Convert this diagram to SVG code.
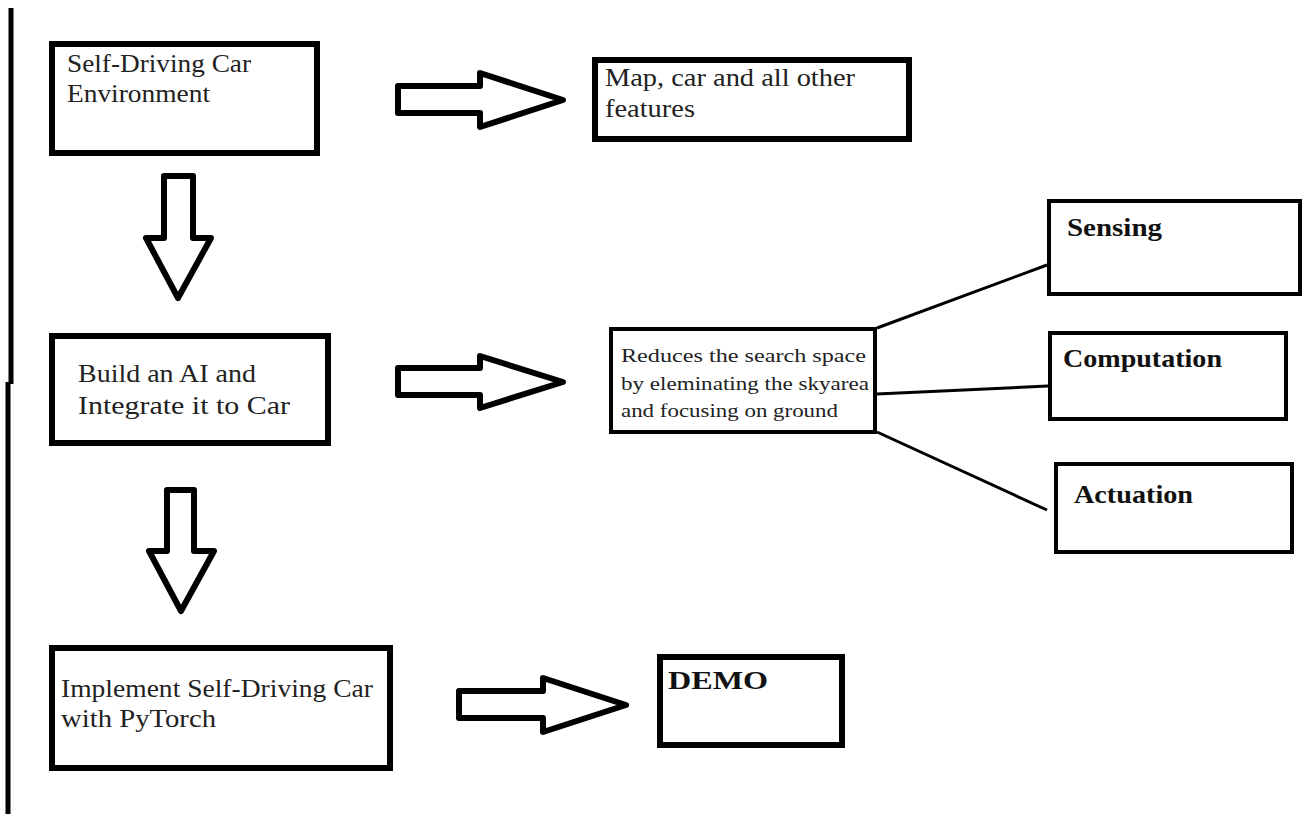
<svg xmlns="http://www.w3.org/2000/svg" width="1303" height="814" viewBox="0 0 1303 814">
<style>
.box{fill:#fff;stroke:#000;stroke-width:6}
.tbox{fill:#fff;stroke:#000;stroke-width:4}
.arr{fill:#fff;stroke:#000;stroke-width:6;stroke-linejoin:round}
.ln{stroke:#000;stroke-width:3;fill:none}
.t{font-family:"Liberation Serif","Times New Roman",serif;font-size:26px;fill:#222}
.s{font-family:"Liberation Serif","Times New Roman",serif;font-size:18px;fill:#222}
.b{font-family:"Liberation Serif","Times New Roman",serif;font-size:25px;font-weight:bold;fill:#111}
</style>
<rect width="1303" height="814" fill="#fff"/>
<g id="sidebar">
<line x1="11" y1="8" x2="11" y2="384" stroke="#000" stroke-width="5"/>
<line x1="8" y1="382" x2="8" y2="814" stroke="#000" stroke-width="5"/>
</g>
<g id="connectors">
<path class="arr" d="M398,86 H480 V73 L563,100 L480,127 V113 H398 Z"/>
<path class="arr" d="M398,368 H480 V356 L563,382 L480,408 V395 H398 Z"/>
<path class="arr" d="M459,691 H543 V678 L626,705 L543,732 V718 H459 Z"/>
<path class="arr" d="M164,176 H193 V238 H211 L178,298 L146,238 H164 Z"/>
<path class="arr" d="M167,490 H194 V551 H214 L181,611 L149,551 H167 Z"/>
<line class="ln" x1="877" y1="328" x2="1047" y2="265"/>
<line class="ln" x1="877" y1="394" x2="1048" y2="386"/>
<line class="ln" x1="877" y1="432" x2="1047" y2="510"/>
</g>
<g id="env">
<rect class="box" x="52" y="44" width="265" height="109"/>
<text class="t" x="67" y="72" textLength="184" lengthAdjust="spacingAndGlyphs">Self-Driving Car</text>
<text class="t" x="67" y="102" textLength="143" lengthAdjust="spacingAndGlyphs">Environment</text>
</g>
<g id="map">
<rect class="box" x="595" y="60" width="314" height="79"/>
<text class="t" x="605" y="86" textLength="250" lengthAdjust="spacingAndGlyphs">Map, car and all other</text>
<text class="t" x="605" y="117" textLength="90" lengthAdjust="spacingAndGlyphs">features</text>
</g>
<g id="build">
<rect class="box" x="52" y="336" width="276" height="107"/>
<text class="t" x="78" y="382" textLength="178" lengthAdjust="spacingAndGlyphs">Build an AI and</text>
<text class="t" x="78" y="414" textLength="212" lengthAdjust="spacingAndGlyphs">Integrate it to Car</text>
</g>
<g id="reduce">
<rect class="tbox" x="611" y="329" width="264" height="103"/>
<text class="s" x="621" y="362" textLength="245" lengthAdjust="spacingAndGlyphs">Reduces the search space</text>
<text class="s" x="621" y="390" textLength="248" lengthAdjust="spacingAndGlyphs">by eleminating the skyarea</text>
<text class="s" x="621" y="417" textLength="217" lengthAdjust="spacingAndGlyphs">and focusing on ground</text>
</g>
<g id="sensing">
<rect class="tbox" x="1049" y="201" width="251" height="93"/>
<text class="b" x="1067" y="236" textLength="95" lengthAdjust="spacingAndGlyphs">Sensing</text>
</g>
<g id="computation">
<rect class="tbox" x="1050" y="333" width="236" height="86"/>
<text class="b" x="1063" y="367" textLength="159" lengthAdjust="spacingAndGlyphs">Computation</text>
</g>
<g id="actuation">
<rect class="tbox" x="1056" y="464" width="236" height="88"/>
<text class="b" x="1074" y="503" textLength="119" lengthAdjust="spacingAndGlyphs">Actuation</text>
</g>
<g id="implement">
<rect class="box" x="52" y="648" width="338" height="120"/>
<text class="t" x="61" y="697" textLength="312" lengthAdjust="spacingAndGlyphs">Implement Self-Driving Car</text>
<text class="t" x="61" y="727" textLength="155" lengthAdjust="spacingAndGlyphs">with PyTorch</text>
</g>
<g id="demo">
<rect class="box" x="660" y="657" width="182" height="88"/>
<text class="b" x="668" y="689" textLength="100" lengthAdjust="spacingAndGlyphs">DEMO</text>
</g>
</svg>
